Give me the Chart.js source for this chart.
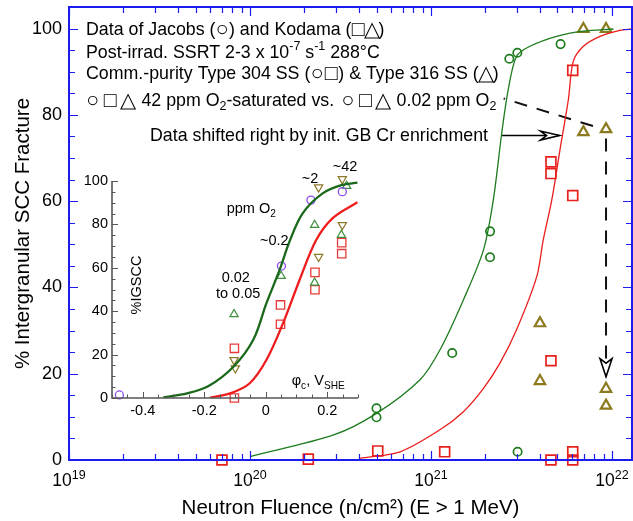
<!DOCTYPE html>
<html>
<head>
<meta charset="utf-8">
<script src="https://cdn.jsdelivr.net/npm/chart.js@4.4.0/dist/chart.umd.min.js"></script>
<style>
  html, body { margin: 0; padding: 0; background: #fff; }
  #wrap { position: relative; width: 633px; height: 521px; overflow: hidden; }
  #main { position: absolute; left: 0; top: 0; }
  #inset { position: absolute; left: 66px; top: 150px; }
</style>
</head>
<body>
<div id="wrap">
  <canvas id="main" width="633" height="521"></canvas>
  <canvas id="inset" width="308" height="280"></canvas>
</div>
<script>
// --- main chart: neutron fluence (n/cm2) vs % IG fracture ---
const jacobsFluence = [5.0e20, 5.0e20, 1.31e21, 2.12e21, 2.12e21, 2.71e21, 3.0e21, 3.01e21, 5.2e21];
const jacobsIG      = [12.0, 9.9, 24.8, 53.0, 47.0, 93.0, 94.4, 1.9, 96.4];

const kodama304Fluence = [7.0e19, 2.1e20, 5.08e20, 1.19e21, 4.6e21, 6.07e21, 6.07e21, 4.6e21, 6.07e21, 4.6e21, 4.6e21, 6.07e21];
const kodama304IG      = [0, 0.2, 2.1, 1.9, 0, 0, 1.9, 23.0, 90.3, 69.1, 66.4, 61.3];

const kodama316Fluence = [6.95e21, 9.27e21, 6.95e21, 9.27e21, 4.0e21, 4.0e21, 9.27e21, 9.27e21];
const kodama316IG      = [99.9, 99.9, 76.0, 76.7, 31.7, 18.3, 16.5, 12.6];

// fitted curves (42 ppm vs 0.02 ppm O2)
const curveHighFluence = [1.0e20, 2.9e20, 5.0e20, 8.7e20, 1.12e21, 1.51e21, 1.95e21, 2.21e21, 2.46e21, 2.67e21, 2.97e21, 3.52e21, 4.94e21, 6.93e21, 1.02e22];
const curveHighIG      = [0.8, 5.8, 10.8, 18.6, 25.5, 37.1, 48.7, 60.3, 75.8, 85.8, 93.6, 95.9, 98.2, 99.4, 99.9];
const curveLowFluence  = [4.06e20, 6.75e20, 1.12e21, 1.51e21, 1.95e21, 2.40e21, 2.97e21, 3.84e21, 4.17e21, 4.65e21, 5.16e21, 5.74e21, 6.11e21, 6.95e21, 8.59e21, 1.107e22, 1.29e22];
const curveLowIG       = [0.4, 1.9, 7.0, 11.2, 16.6, 22.4, 30.2, 42.5, 51.0, 60.3, 71.9, 83.5, 92.4, 95.9, 98.2, 99.6, 99.9];

// annotation arrows (data coordinates)
const shiftArrowFluence = [2.47e21, 5.13e21];
const shiftArrowIG      = [75.2, 75.2];
const o2DashFluence     = [2.52e21, 8.3e21];
const o2DashIG          = [83.8, 77.1];
const dropDashFluence   = [9.27e21, 9.27e21];
const dropDashIG        = [74.5, 19.3];

const xDecades = [1e19, 1e20, 1e21, 1e22];
const xDecadeExp = ['19', '20', '21', '22'];
const yTicks = [0, 20, 40, 60, 80, 100];

// --- inset: corrosion potential (V SHE) vs %IGSCC ---
const insetCirclePhi = [-0.476, 0.051, 0.147, 0.249];
const insetCircleIG  = [1.4, 60.8, 91.2, 95.1];
const insetUpPhi = [-0.103, 0.05, 0.159, 0.159, 0.246, 0.263];
const insetUpIG  = [38.6, 56.2, 79.7, 53.1, 75.1, 97.7];
const insetDownPhi = [-0.103, -0.099, 0.172, 0.172, 0.249, 0.249];
const insetDownIG  = [17.5, 13.7, 97.1, 65.1, 100.9, 79.7];
const insetSquarePhi = [-0.102, -0.102, 0.048, 0.048, 0.160, 0.160, 0.247, 0.247];
const insetSquareIG  = [22.9, 0, 42.9, 34.0, 57.9, 49.9, 71.6, 66.5];
const insetGreenPhi = [-0.333, -0.256, -0.186, -0.105, -0.041, 0.002, 0.045, 0.077, 0.12, 0.185, 0.249, 0.298];
const insetGreenIG  = [0.3, 2.1, 5.5, 14.4, 26.7, 43.6, 59.0, 72.0, 85.1, 94.3, 98.2, 99.2];
const insetRedPhi = [-0.181, -0.116, -0.052, 0.002, 0.056, 0.11, 0.164, 0.217, 0.298];
const insetRedIG  = [0.2, 2.1, 6.8, 17.5, 34.4, 54.4, 72.8, 82.8, 90.2];
const insetXTicks = [-0.4, -0.2, 0, 0.2];
const insetYTicks = [0, 20, 40, 60, 80, 100];

const FONT = '"Liberation Sans", Arial, sans-serif';
Chart.defaults.font.family = FONT;
Chart.defaults.color = '#000';

const pts = (xs, ys) => xs.map((x, i) => ({ x: x, y: ys[i] }));

// fixed axis box sizes, no extra label padding
const fixWidth = w => s => { s.width = w; s.paddingTop = 0; s.paddingBottom = 0; s.paddingLeft = 0; s.paddingRight = 0; };
const fixHeight = h => s => { s.height = h; s.paddingTop = 0; s.paddingBottom = 0; s.paddingLeft = 0; s.paddingRight = 0; };

// text with pieces: [text, 'sup'|'sub'|'sym'|undefined, symbolAdvance]
function drawRich(ctx, x, y, parts, size) {
    let cx = x;
    ctx.textBaseline = 'alphabetic';
    for (const [t, kind, adv] of parts) {
        if (kind === 'sym') {
            ctx.font = (size * 1.2) + 'px ' + FONT;
            ctx.textAlign = 'center';
            for (const ch of t) {
                ctx.fillText(ch, cx + adv / 2, y + 1);
                cx += adv;
            }
            continue;
        }
        ctx.textAlign = 'left';
        const s = kind ? size * 0.7 : size;
        ctx.font = s + 'px ' + FONT;
        const dy = kind === 'sup' ? -size * 0.4 : (kind === 'sub' ? size * 0.28 : 0);
        ctx.fillText(t, cx, y + dy);
        cx += ctx.measureText(t).width;
    }
}

function hollowArrow(ctx, meta, len, half, notch) {
    const p = meta.data;
    const a = p[p.length - 2], b = p[p.length - 1];
    const dx = b.x - a.x, dy = b.y - a.y, d = Math.hypot(dx, dy);
    const ux = dx / d, uy = dy / d, nx = -uy, ny = ux;
    ctx.beginPath();
    ctx.moveTo(b.x, b.y);
    ctx.lineTo(b.x - len * ux + half * nx, b.y - len * uy + half * ny);
    ctx.lineTo(b.x - notch * ux, b.y - notch * uy);
    ctx.lineTo(b.x - len * ux - half * nx, b.y - len * uy - half * ny);
    ctx.closePath();
    ctx.fillStyle = '#fff';
    ctx.fill();
    ctx.strokeStyle = '#000';
    ctx.lineWidth = 1.6;
    ctx.setLineDash([]);
    ctx.stroke();
}

const mainDecor = {
    id: 'mainDecor',
    afterDatasetsDraw(chart) {
        const ctx = chart.ctx;
        ctx.save();
        hollowArrow(ctx, chart.getDatasetMeta(5), 19, 4.5, 13);
        hollowArrow(ctx, chart.getDatasetMeta(7), 18, 6, 13.5);
        ctx.restore();
    },
    afterDraw(chart) {
        const { ctx, chartArea: a, scales: { x, y } } = chart;
        ctx.save();
        const blue = '#1c1cf0';
        ctx.strokeStyle = blue;
        ctx.lineWidth = 1.2;
        ctx.beginPath();
        // x ticks, bottom and top, inward
        for (let e = 19; e <= 22; e++) {
            for (let m = 1; m <= 9; m++) {
                const v = m * Math.pow(10, e);
                if (v > x.max) break;
                const px = Math.round(x.getPixelForValue(v)) + 0.5;
                const L = m === 1 ? 9 : 6;
                ctx.moveTo(px, a.bottom); ctx.lineTo(px, a.bottom - L);
                ctx.moveTo(px, a.top); ctx.lineTo(px, a.top + L);
            }
        }
        // y ticks, left and right, inward
        for (let v = 0; v <= 105; v += 5) {
            const py = Math.round(y.getPixelForValue(v)) + 0.5;
            const L = v % 20 === 0 ? 9 : 6;
            ctx.moveTo(a.left, py); ctx.lineTo(a.left + L, py);
            ctx.moveTo(a.right, py); ctx.lineTo(a.right - L, py);
        }
        ctx.stroke();
        ctx.lineWidth = 2;
        ctx.strokeRect(a.left, a.top, a.right - a.left, a.bottom - a.top);

        // decade labels 10^n
        ctx.fillStyle = '#000';
        xDecades.forEach((v, i) => {
            ctx.font = '17.5px ' + FONT;
            const w1 = ctx.measureText('10').width;
            ctx.font = '12.5px ' + FONT;
            const w2 = ctx.measureText(xDecadeExp[i]).width;
            const px = x.getPixelForValue(v) - (w1 + w2) / 2;
            ctx.textAlign = 'left';
            ctx.textBaseline = 'alphabetic';
            ctx.font = '17.5px ' + FONT;
            ctx.fillText('10', px, 486);
            ctx.font = '12.5px ' + FONT;
            ctx.fillText(xDecadeExp[i], px + w1, 479);
        });

        // header notes
        const fs = 17.8;
        drawRich(ctx, 86, 35, [['Data of Jacobs ('], ['\u25CB', 'sym', 13.5], [') and Kodama ('], ['\u25A1\u25B3', 'sym', 13.5], [')']], fs);
        drawRich(ctx, 86, 57.5, [['Post-irrad. SSRT 2-3 x 10'], ['-7', 'sup'], [' s'], ['-1', 'sup'], [' 288\u00B0C']], fs);
        drawRich(ctx, 86, 79, [['Comm.-purity Type 304 SS ('], ['\u25CB\u25A1', 'sym', 14], [') & Type 316 SS ('], ['\u25B3', 'sym', 14], [')']], fs);
        drawRich(ctx, 84, 105.5, [['\u25CB\u25A1\u25B3', 'sym', 17.5], [' 42 ppm O'], ['2', 'sub'], ['-saturated vs. '], ['\u25CB\u25A1\u25B3', 'sym', 17.5], [' 0.02 ppm O'], ['2', 'sub']], fs);
        drawRich(ctx, 150, 140.5, [['Data shifted right by init. GB Cr enrichment']], fs);
        ctx.restore();
    }
};

new Chart(document.getElementById('main'), {
    type: 'scatter',
    data: {
        datasets: [
            { data: pts(curveHighFluence, curveHighIG), showLine: true, borderColor: '#1e7b1e', borderWidth: 1.3, pointRadius: 0, tension: 0.3 },
            { data: pts(curveLowFluence, curveLowIG), showLine: true, borderColor: '#ea1c1c', borderWidth: 1.3, pointRadius: 0, tension: 0.3 },
            { data: pts(jacobsFluence, jacobsIG), pointStyle: 'circle', pointRadius: 4.2, borderColor: '#1e7b1e', backgroundColor: 'rgba(0,0,0,0)', borderWidth: 1.7 },
            { data: pts(kodama304Fluence, kodama304IG), pointStyle: 'rect', pointRadius: 7, borderColor: '#e8201c', backgroundColor: 'rgba(0,0,0,0)', borderWidth: 1.7, clip: false },
            { data: pts(kodama316Fluence, kodama316IG), pointStyle: 'triangle', pointRadius: 6, borderColor: '#8c7a1e', backgroundColor: 'rgba(0,0,0,0)', borderWidth: 2.2 },
            { data: pts(shiftArrowFluence, shiftArrowIG), showLine: true, borderColor: '#000', borderWidth: 1.6, pointRadius: 0 },
            { data: pts(o2DashFluence, o2DashIG), showLine: true, borderColor: '#111', borderWidth: 2, borderDash: [13, 10], borderDashOffset: 11.5, pointRadius: 0 },
            { data: pts(dropDashFluence, dropDashIG), showLine: true, borderColor: '#111', borderWidth: 2, borderDash: [13, 10], pointRadius: 0 }
        ]
    },
    options: {
        responsive: false,
        animation: false,
        devicePixelRatio: 1,
        layout: { autoPadding: false, padding: { top: 7, right: 1, left: 0, bottom: 0 } },
        plugins: { legend: { display: false }, tooltip: { enabled: false } },
        scales: {
            x: {
                type: 'logarithmic',
                min: 1e19,
                max: 1.29e22,
                grid: { display: false, drawTicks: false },
                border: { display: false },
                ticks: { display: false },
                title: { display: true, text: 'Neutron Fluence (n/cm\u00B2) (E > 1 MeV)', font: { size: 20.5 }, padding: { top: 0, bottom: 0.5 } },
                afterFit: fixHeight(61)
            },
            y: {
                min: 0,
                max: 105,
                grid: { display: false, drawTicks: false },
                border: { display: false },
                ticks: { font: { size: 18 }, padding: 7 },
                afterBuildTicks: s => { s.ticks = yTicks.map(v => ({ value: v })); },
                title: { display: true, text: '% Intergranular SCC Fracture', font: { size: 20.5 }, padding: { top: 11, bottom: 0 } },
                afterFit: fixWidth(69)
            }
        }
    },
    plugins: [mainDecor]
});

// ---- inset ----
const OX = 66, OY = 150; // inset canvas offset on the page
const insetDecor = {
    id: 'insetDecor',
    afterDraw(chart) {
        const { ctx, chartArea: a, scales: { x, y } } = chart;
        ctx.save();
        ctx.strokeStyle = '#555';
        ctx.lineWidth = 1;
        ctx.beginPath();
        for (let i = -10; i <= 6; i++) {
            const v = i * 0.05;
            const px = Math.round(x.getPixelForValue(v)) + 0.5;
            const L = i % 4 === 0 ? 6 : 3.5;
            ctx.moveTo(px, a.bottom); ctx.lineTo(px, a.bottom - L);
        }
        for (let v = 0; v <= 100; v += 5) {
            const py = Math.round(y.getPixelForValue(v)) + 0.5;
            const L = v % 20 === 0 ? 6 : 3.5;
            ctx.moveTo(a.left, py); ctx.lineTo(a.left + L, py);
        }
        ctx.stroke();
        ctx.lineWidth = 1.6;
        ctx.beginPath();
        ctx.moveTo(a.left, a.top);
        ctx.lineTo(a.left, a.bottom);
        ctx.lineTo(a.right, a.bottom);
        ctx.stroke();

        ctx.fillStyle = '#000';
        const fs = 14.5;
        drawRich(ctx, 301.7 - OX, 183 - OY, [['~2']], fs);
        drawRich(ctx, 332.7 - OX, 170.7 - OY, [['~42']], fs);
        drawRich(ctx, 226.7 - OX, 213.3 - OY, [['ppm O'], ['2', 'sub']], fs);
        drawRich(ctx, 260 - OX, 245 - OY, [['~0.2']], fs);
        drawRich(ctx, 221.7 - OX, 281.7 - OY, [['0.02']], fs);
        drawRich(ctx, 216 - OX, 298.3 - OY, [['to 0.05']], fs);
        drawRich(ctx, 291.7 - OX, 385 - OY, [['\u03C6'], ['c', 'sub'], [', V'], ['SHE', 'sub']], fs);

        ctx.translate(141 - OX, 285 - OY);
        ctx.rotate(-Math.PI / 2);
        ctx.font = fs + 'px ' + FONT;
        ctx.textAlign = 'center';
        ctx.textBaseline = 'alphabetic';
        ctx.fillText('%IGSCC', 0, 0);
        ctx.restore();
    }
};

new Chart(document.getElementById('inset'), {
    type: 'scatter',
    data: {
        datasets: [
            { data: pts(insetGreenPhi, insetGreenIG), showLine: true, borderColor: '#1a681a', borderWidth: 2.3, pointRadius: 0, tension: 0.35 },
            { data: pts(insetRedPhi, insetRedIG), showLine: true, borderColor: '#ee1c1c', borderWidth: 2.3, pointRadius: 0, tension: 0.35 },
            { data: pts(insetCirclePhi, insetCircleIG), pointStyle: 'circle', pointRadius: 4, borderColor: '#8a4df0', backgroundColor: 'rgba(0,0,0,0)', borderWidth: 1.3, clip: false },
            { data: pts(insetUpPhi, insetUpIG), pointStyle: 'triangle', pointRadius: 4.8, borderColor: '#3f8f3f', backgroundColor: 'rgba(0,0,0,0)', borderWidth: 1.2, clip: false },
            { data: pts(insetDownPhi, insetDownIG), pointStyle: 'triangle', rotation: 180, pointRadius: 4.8, borderColor: '#8c7a2a', backgroundColor: 'rgba(0,0,0,0)', borderWidth: 1.2, clip: false },
            { data: pts(insetSquarePhi, insetSquareIG), pointStyle: 'rect', pointRadius: 5.9, borderColor: '#e83a3a', backgroundColor: 'rgba(0,0,0,0)', borderWidth: 1.3, clip: false }
        ]
    },
    options: {
        responsive: false,
        animation: false,
        devicePixelRatio: 1,
        layout: { autoPadding: false, padding: { top: 31, right: 16, left: 0, bottom: 0 } },
        plugins: { legend: { display: false }, tooltip: { enabled: false } },
        scales: {
            x: {
                min: -0.5,
                max: 0.3,
                grid: { display: false, drawTicks: false },
                border: { display: false },
                ticks: { font: { size: 14.5 }, padding: 4, maxRotation: 0, autoSkip: false,
                         callback: v => (Math.abs(v) < 1e-9 ? '0' : v.toFixed(1)) },
                afterBuildTicks: s => { s.ticks = insetXTicks.map(v => ({ value: v })); },
                afterFit: fixHeight(32)
            },
            y: {
                min: 0,
                max: 100,
                grid: { display: false, drawTicks: false },
                border: { display: false },
                ticks: { font: { size: 14.5 }, padding: 4 },
                afterBuildTicks: s => { s.ticks = insetYTicks.map(v => ({ value: v })); },
                afterFit: fixWidth(46)
            }
        }
    },
    plugins: [insetDecor]
});
</script>
</body>
</html>
